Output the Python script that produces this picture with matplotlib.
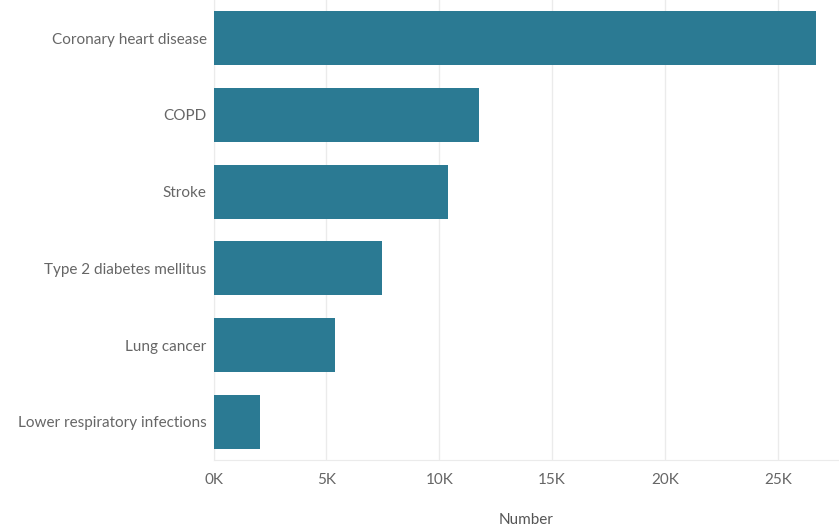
import matplotlib
matplotlib.use("Agg")
import matplotlib.pyplot as plt
from matplotlib.ticker import FuncFormatter

categories = ["Coronary heart disease", "COPD", "Stroke", "Type 2 diabetes mellitus",
              "Lung cancer", "Lower respiratory infections"]
values = [26700, 11750, 10400, 7470, 5400, 2080]
xticks = [0, 5000, 10000, 15000, 20000, 25000]

plt.rcParams['font.family'] = ['Lato', 'DejaVu Sans']

fig = plt.figure(figsize=(8.39, 5.27), dpi=100)
ax = fig.add_axes([213.5/839, 67/527, 1 - 213.5/839, 460/527])

y = list(range(len(categories)))
ax.barh(y, values, height=0.705, color="#2b7a93", zorder=3)
ax.set_yticks(y)
ax.set_yticklabels(categories)
ax.set_ylim(len(categories) - 0.5, -0.5)
ax.set_xlim(0, 27700)
ax.set_xticks(xticks)
ax.xaxis.set_major_formatter(FuncFormatter(lambda v, p: f"{int(v/1000)}K"))
ax.grid(axis="x", color="#ebebeb", linewidth=1, zorder=0)
for s in ["top", "right"]:
    ax.spines[s].set_visible(False)
ax.spines["left"].set_color("#ebebeb")
ax.spines["bottom"].set_color("#ebebeb")
ax.tick_params(axis="both", length=0, colors="#666666", labelsize=11)
ax.tick_params(axis="x", pad=9)
ax.tick_params(axis="y", pad=5)
ax.set_xlabel("Number", color="#555555", fontsize=11, labelpad=19)

fig.savefig("out.png", dpi=100)
